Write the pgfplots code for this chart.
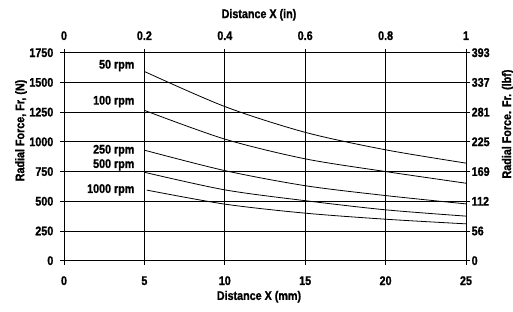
\documentclass[border=0pt]{standalone}
\usepackage{fontspec}
\setmainfont{Liberation Sans}[FakeStretch=0.86, BoldFont={Liberation Sans Bold}, BoldFeatures={FakeStretch=0.86, FakeBold=1.2}]
\usepackage{pgfplots}
\pgfplotsset{compat=1.18}
\begin{document}
\begin{tikzpicture}[font=\fontsize{12.5bp}{14bp}\selectfont\bfseries]
\begin{axis}[
  scale only axis, width=402bp, height=208bp,
  xmin=0, xmax=25, ymin=0, ymax=1750,
  xtick={0,5,...,25}, ytick={0,250,...,1750},
  xtick pos=bottom, ytick pos=left,
  tick align=outside, major tick length=4bp,
  grid=major, major grid style={black, line width=0.9bp},
  axis line style={black, line width=0.9bp},
  every tick/.style={black, line width=0.9bp},
  /pgf/number format/assume math mode=true,
  /pgf/number format/1000 sep={},
  xticklabel style={anchor=center, yshift=-16bp, inner sep=0pt},
  yticklabel style={anchor=east, xshift=-6.5bp, inner sep=0pt},
  xlabel={Distance X (mm)},
  xlabel style={at={(rel axis cs:0.485,-0.173)}, anchor=center},
  ylabel={Radial Force, Fr, (N)},
  ylabel style={at={(rel axis cs:-0.107,0.626)}, anchor=center},
  clip=false,
]
\coordinate (ll) at (rel axis cs:0,0);
\coordinate (ur) at (rel axis cs:1,1);
\addplot[black, line width=0.8bp, smooth] coordinates {(5,1592)(10,1297)(15,1080)(20,933)(25,821)};
\addplot[black, line width=0.8bp, smooth] coordinates {(5,1265)(10,1023)(15,857)(20,750)(25,652)};
\addplot[black, line width=0.8bp, smooth] coordinates {(5,930)(10,758)(15,631)(20,548)(25,478)};
\addplot[black, line width=0.8bp, smooth] coordinates {(5,744)(10,596)(15,505)(20,428)(25,375)};
\addplot[black, line width=0.8bp, smooth] coordinates {(5.15,594)(10,476)(15,400)(20,349)(25,310)};
\node[anchor=east, inner sep=0pt] at (axis cs:4.39,1642) {50 rpm};
\node[anchor=east, inner sep=0pt] at (axis cs:4.39,1339) {100 rpm};
\node[anchor=east, inner sep=0pt] at (axis cs:4.39,927) {250 rpm};
\node[anchor=east, inner sep=0pt] at (axis cs:4.39,806) {500 rpm};
\node[anchor=east, inner sep=0pt] at (axis cs:4.39,596) {1000 rpm};
\end{axis}
\begin{axis}[
  scale only axis, width=402bp, height=208bp,
  xmin=0, xmax=25, ymin=0, ymax=1750,
  axis x line*=top, axis y line*=right,
  xtick={0,5,...,25}, ytick={0,250,...,1750},
  xticklabels={0,0.2,0.4,0.6,0.8,1},
  yticklabels={0,56,112,169,225,281,337,393},
  tick align=outside, major tick length=4bp,
  axis line style={black, line width=0.9bp},
  every tick/.style={black, line width=0.9bp},
  /pgf/number format/assume math mode=true,
  xticklabel style={anchor=center, yshift=13bp, inner sep=0pt},
  yticklabel style={anchor=west, xshift=1.5bp, inner sep=0pt},
  xlabel={Distance X (in)},
  xlabel style={at={(rel axis cs:0.485,1.182)}, anchor=center},
  ylabel={Radial Force. Fr. (lbf)},
  ylabel style={at={(rel axis cs:1.104,0.657)}, anchor=center},
]
\end{axis}
\pgfresetboundingbox
\path ([shift={(-64bp,-51.2bp)}]ll) rectangle ([shift={(47bp,52.7bp)}]ur);
\end{tikzpicture}
\end{document}
